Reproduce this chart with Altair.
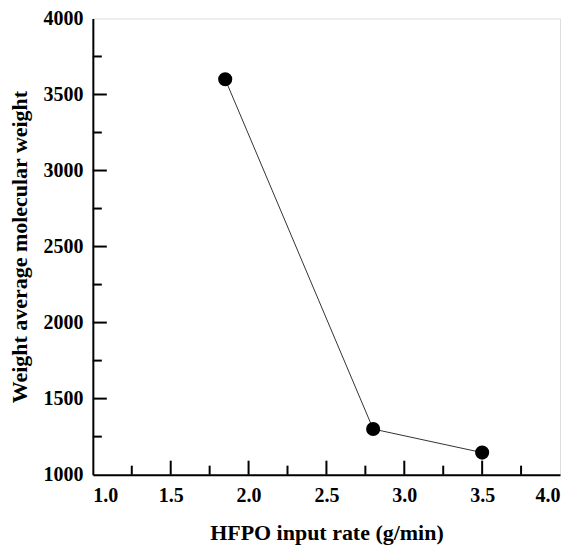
import altair as alt
import pandas as pd

# data
rate = [1.85, 2.8, 3.5]
mw = [3600, 1300, 1145]

x_major = [1.0, 1.5, 2.0, 2.5, 3.0, 3.5, 4.0]
x_minor = [1.25, 1.75, 2.25, 2.75, 3.25, 3.75]
y_major = [1000, 1500, 2000, 2500, 3000, 3500, 4000]
y_minor = [1250, 1750, 2250, 2750, 3250, 3750]

W, H = 468, 457
FONT = "Liberation Serif"

df = pd.DataFrame({"rate": rate, "mw": mw})
xs = alt.Scale(domain=[1.0, 4.0], nice=False, zero=False)
ys = alt.Scale(domain=[1000, 4000], nice=False, zero=False)

x_axis = alt.Axis(values=x_major, format=".1f", ticks=False, grid=False,
                  labelPadding=11, titlePadding=17, domainWidth=2, domainColor="black",
                  labelFont=FONT, labelFontSize=20, labelFontWeight="bold", labelColor="black",
                  titleFont=FONT, titleFontSize=22, titleFontWeight="bold", titleColor="black")
y_axis = alt.Axis(values=y_major, format="d", ticks=False, grid=False,
                  labelPadding=10, titlePadding=11, domainWidth=2, domainColor="black",
                  labelFont=FONT, labelFontSize=20, labelFontWeight="bold", labelColor="black",
                  titleFont=FONT, titleFontSize=22, titleFontWeight="bold", titleColor="black")

line = alt.Chart(df).mark_line(color="#333333", strokeWidth=1).encode(
    x=alt.X("rate:Q", scale=xs, axis=x_axis, title="HFPO input rate (g/min)"),
    y=alt.Y("mw:Q", scale=ys, axis=y_axis, title="Weight average molecular weight"),
)
pts = alt.Chart(df).mark_circle(color="black", opacity=1, size=200).encode(
    x=alt.X("rate:Q", scale=xs), y=alt.Y("mw:Q", scale=ys)
)

def xticks(vals, length):
    return alt.Chart(pd.DataFrame({"v": vals})).mark_rule(color="black", strokeWidth=2).encode(
        x=alt.X("v:Q", scale=xs), y=alt.value(H), y2=alt.value(H - length))

def yticks(vals, length):
    return alt.Chart(pd.DataFrame({"v": vals})).mark_rule(color="black", strokeWidth=2).encode(
        y=alt.Y("v:Q", scale=ys), x=alt.value(0), x2=alt.value(length))

chart = alt.layer(
    xticks(x_major[1:-1], 14), xticks(x_minor, 9),
    yticks(y_major[1:-1], 14), yticks(y_minor, 9),
    line, pts,
).properties(
    width=W, height=H,
    autosize=alt.AutoSizeParams(type="none"),
    padding={"left": 85, "top": 10, "right": 5, "bottom": 73},
).configure_view(stroke="black", strokeWidth=2).configure(background="white")

chart.save("out.html", embed_options={"renderer": "svg", "actions": False})
